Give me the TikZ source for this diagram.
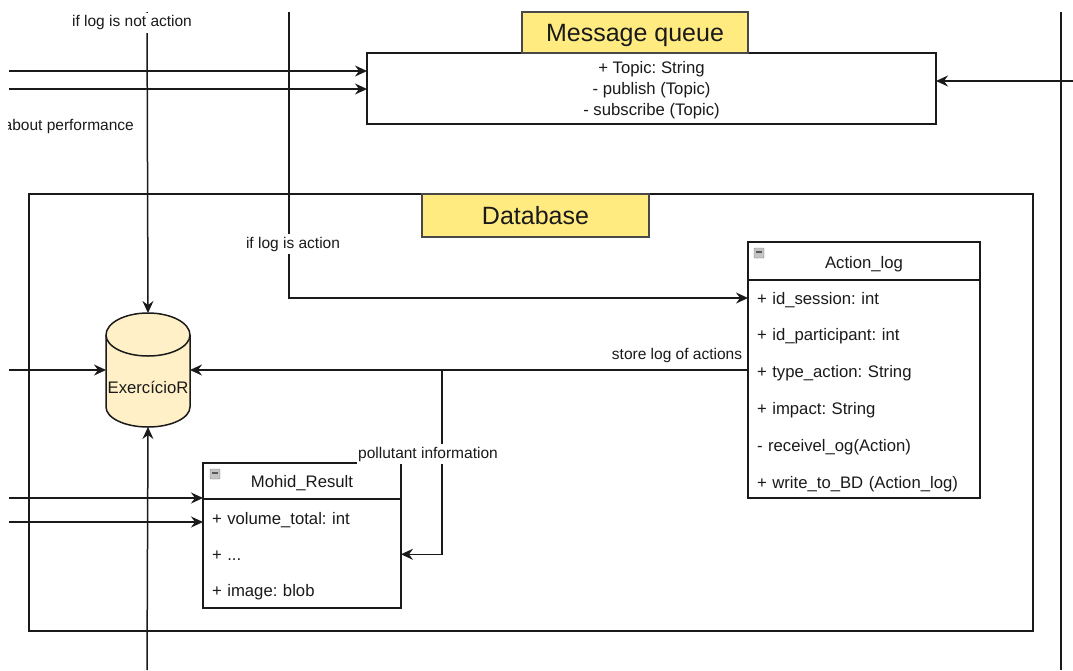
\documentclass[tikz,border=0pt]{standalone}
\usepackage{fontspec}
\setmainfont{Liberation Sans}
\frenchspacing
\usetikzlibrary{arrows.meta}
\definecolor{titlefill}{HTML}{FFEB7F}
\definecolor{dbfill}{HTML}{FFF0C8}
\definecolor{ink}{HTML}{1A1A1A}
\definecolor{iconfill}{HTML}{C4C4C4}
\tikzset{
  conn/.style={draw=ink, line width=1.5pt},
  arr/.style={conn, -{Stealth[length=12pt,width=11pt,inset=4pt]}},
  box/.style={draw=ink, line width=1.5pt, fill=white, inner sep=0pt, outer sep=0pt, anchor=north west},
  titlebox/.style={draw=ink!80, line width=1.4pt, fill=titlefill, inner sep=0pt, outer sep=0pt,
    anchor=north west, font=\fontsize{25}{29}\selectfont, text=ink, text depth=0pt},
  rowtext/.style={inner xsep=9pt, inner ysep=0pt, outer sep=0pt, anchor=west,
    minimum height=36.8pt, align=left, font=\fontsize{16.7}{20}\selectfont, text=ink,
    text height=12pt, text depth=0pt},
  headtext/.style={inner sep=0pt, outer sep=0pt, font=\fontsize{16.7}{20}\selectfont, text=ink,
    text height=12pt, text depth=0pt},
  lbl/.style={fill=white, inner xsep=1.5pt, inner ysep=2.5pt, font=\fontsize{15.5}{18}\selectfont,
    text=ink, text height=11.5pt, text depth=3.5pt},
  minusicon/.style={draw=gray, fill=iconfill, minimum size=10pt, inner sep=0pt, rounded corners=0.8pt,
    path picture={\draw[line width=1.7pt, black!65]
      ([xshift=1.8pt,yshift=0.8pt]path picture bounding box.west) --
      ([xshift=-1.8pt,yshift=0.8pt]path picture bounding box.east);}},
}
\begin{document}
\begin{tikzpicture}[x=1pt, y=-1pt]
\useasboundingbox (0,0) rectangle (1073,670);
\clip (8.5,0) rectangle (1073,670);

% ---------- Database frame ----------
\node[box, fill=none, minimum width=1004pt, minimum height=437pt] (dbframe) at (29,194) {};

% ---------- Message queue ----------
\node[box, minimum width=569pt, minimum height=71pt] (mq) at (367,53) {};
\node[titlebox, minimum width=226pt, minimum height=41pt] (mqtitle) at (522,12) {Message queue};
\node[headtext] (mq1) at (651.5,67.5) {+ Topic: String};
\node[headtext] (mq2) at (651.5,88.3) {- publish (Topic)};
\node[headtext] (mq3) at (651.5,109.2) {- subscribe (Topic)};

% ---------- free ends of connectors ----------
\coordinate (lin1) at (9,71);
\coordinate (lin2) at (9,89);
\coordinate (lin3) at (9,370);
\coordinate (lin4) at (9,498);
\coordinate (lin5) at (9,522);
\coordinate (rin) at (1073,81);
\coordinate (topA) at (147,12);
\coordinate (topB) at (289,12);
\coordinate (botA) at (147,670);
\coordinate (railtop) at (1061,12);
\coordinate (railbot) at (1061,670);
\coordinate (branch) at (442,370);

% ---------- ExercícioR cylinder ----------
\draw[draw=ink, fill=dbfill, line width=1.5pt]
  (106,335) -- (106,407) arc[start angle=180, end angle=360, x radius=42pt, y radius=20pt]
  -- (190,335) arc[start angle=0, end angle=180, x radius=42pt, y radius=22pt] -- cycle;
\draw[draw=ink, line width=1.5pt]
  (106,335) arc[start angle=180, end angle=360, x radius=42pt, y radius=21pt];
\node[inner sep=0pt, outer sep=0pt, minimum width=84pt, minimum height=114pt] (db) at (148,370) {};
\node[headtext] (dbname) at (148,387) {ExercícioR};

% ---------- Action_log class ----------
\node[box, minimum width=232pt, minimum height=256pt] (actionlog) at (748,242) {};
\node[inner sep=0pt, outer sep=0pt, minimum width=232pt, minimum height=38pt, anchor=north west]
  (alhead) at (748,242) {};
\node[headtext] (altitle) at (864,262) {Action\_log};
\draw[conn] (alhead.south west) -- (alhead.south east);
\node[minusicon] (alicon) at (759,253) {};
\foreach \i/\t in {1/{+ id\_session: int}, 2/{+ id\_participant: int}, 3/{+ type\_action: String},
                   4/{+ impact: String}, 5/{- receivel\_og(Action)}, 6/{+ write\_to\_BD (Action\_log)}}
  \node[rowtext, text width=214pt] (al\i) at (748,{298+36.8*(\i-1)}) {\t};

% ---------- Mohid_Result class ----------
\node[box, minimum width=198pt, minimum height=145pt] (mohid) at (203,463) {};
\node[inner sep=0pt, outer sep=0pt, minimum width=198pt, minimum height=36pt, anchor=north west]
  (mrhead) at (203,463) {};
\node[headtext] (mrtitle) at (302,481) {Mohid\_Result};
\draw[conn] (mrhead.south west) -- (mrhead.south east);
\node[minusicon] (mricon) at (215,474) {};
\foreach \i/\t in {1/{+ volume\_total: int}, 2/{+ ...}, 3/{+ image: blob}}
  \node[rowtext, minimum height=36pt, text width=180pt] (mr\i) at (203,{518.3+36*(\i-1)}) {\t};

% ---------- Database title ----------
\node[titlebox, minimum width=227pt, minimum height=43pt] (dbtitle) at (422,194) {Database};

% ---------- connectors ----------
\draw[arr] (lin1) -- (lin1 -| mq.west);
\draw[arr] (lin2) -- (lin2 -| mq.west);
\draw[arr] (rin) -- (rin -| mq.east);
\draw[conn] (railtop) -- (railbot);
\draw[arr] (topA) -- (db.north);
\draw[arr] (botA) -- (db.south);
\draw[arr] (lin3) -- (db.west);
\draw[arr] (topB) |- (al1.west);
\draw[arr] (al3.west |- branch) -- (db.east);
\draw[arr] (branch) |- (mr2.east);
\draw[arr] (lin4) -- (lin4 -| mohid.west);
\draw[arr] (lin5) -- (lin5 -| mohid.west);

% ---------- connector labels ----------
\node[lbl] (lblnot) at (132,22.7) {if log is not action};
\node[lbl, fill=none, anchor=east] (lblperf) at (135.5,126) {about performance};
\node[lbl] (lblact) at (293,244.3) {if log is action};
\node[lbl, fill=none] (lblstore) at (677,355.3) {store log of actions};
\node[lbl] (lblpoll) at (428,454.3) {pollutant information};
\end{tikzpicture}
\end{document}
